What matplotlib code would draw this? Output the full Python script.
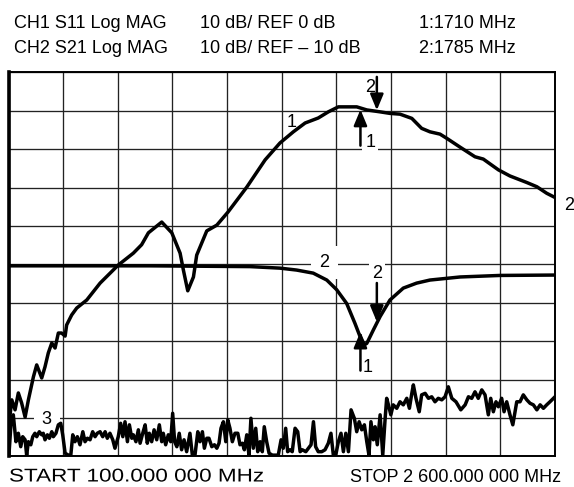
import numpy as np
import matplotlib.pyplot as plt
import matplotlib.transforms as mtransforms
from matplotlib.textpath import TextPath
from matplotlib.patches import PathPatch
from matplotlib.font_manager import FontProperties

plt.rcParams['font.family'] = ['Liberation Sans', 'DejaVu Sans']

# trace 1 (S11), frequency in MHz and level in dB
s11_freq = [102, 115, 130, 145, 160, 176, 191, 214, 229, 252, 267, 282, 298, 313,
            328, 343, 359, 366, 389, 412, 458, 519, 602, 671, 709, 740, 801, 847,
            885, 900, 920, 946, 961, 1007, 1053, 1104, 1190, 1274, 1342, 1403, 1457,
            1517, 1563, 1609, 1693, 1739, 1800, 1845, 1891, 1945, 1990, 2028, 2074,
            2105, 2166, 2234, 2272, 2341, 2394, 2471, 2517, 2562, 2600]
s11_db = [-91.8, -85.3, -87.9, -83.5, -86.1, -89.8, -85.3, -79.3, -76.2, -79.6, -76.7,
          -73.1, -70.5, -71.8, -67.9, -67.9, -68.7, -65.8, -63.2, -61.4, -59.3, -54.9,
          -50.2, -47.1, -44.9, -41.8, -39.0, -41.8, -47.1, -51.5, -56.9, -53.3, -47.6,
          -41.3, -39.8, -36.4, -29.9, -22.8, -18.4, -15.5, -13.2, -11.9, -10.3, -9.0,
          -9.0, -9.8, -10.3, -10.7, -10.9, -12.0, -14.6, -15.5, -16.1, -17.2, -19.5,
          -22.0, -22.6, -25.4, -27.0, -28.7, -29.8, -31.5, -32.6]

# trace 2 (S21)
s21_freq = [100, 747, 1205, 1342, 1418, 1494, 1556, 1601, 1647, 1685, 1708, 1726,
            1739, 1769, 1800, 1845, 1906, 1967, 2028, 2166, 2349, 2600]
s21_db = [-50.4, -50.4, -50.6, -51.0, -51.5, -52.3, -54.1, -56.6, -60.2, -65.4, -68.8,
          -71.0, -70.6, -67.1, -63.6, -59.3, -56.2, -54.9, -54.1, -53.3, -52.9, -52.8]

# trace 3 (noise floor)
tr3_freq = [102, 111, 122, 134, 145, 156, 165, 176, 183, 191, 202, 211, 221, 229, 241,
            252, 259, 267, 278, 287, 298, 305, 317, 328, 339, 348, 359, 374, 385, 394,
            404, 415, 427, 440, 450, 461, 473, 485, 496, 506, 519, 531, 542, 552, 564,
            577, 587, 602, 613, 623, 633, 644, 653, 664, 671, 683, 694, 702, 714, 725,
            735, 744, 755, 766, 778, 790, 801, 808, 819, 831, 842, 851, 860, 870, 881,
            892, 903, 915, 930, 941, 953, 966, 976, 987, 996, 1007, 1017, 1030, 1042,
            1053, 1063, 1072, 1083, 1094, 1103, 1113, 1124, 1136, 1149, 1159, 1170,
            1179, 1190, 1200, 1209, 1220, 1231, 1240, 1251, 1261, 1270, 1281, 1292,
            1307, 1334, 1347, 1357, 1368, 1377, 1388, 1398, 1411, 1423, 1434, 1444,
            1460, 1472, 1484, 1495, 1505, 1517, 1533, 1548, 1563, 1575, 1586, 1597,
            1609, 1621, 1632, 1643, 1655, 1667, 1682, 1693, 1704, 1716, 1728, 1739,
            1749, 1758, 1769, 1777, 1787, 1800, 1812, 1823, 1830, 1838, 1849, 1860,
            1876, 1891, 1906, 1922, 1934, 1945, 1952, 1964, 1979, 1990, 2006, 2021,
            2036, 2051, 2066, 2082, 2097, 2112, 2128, 2147, 2169, 2189, 2204, 2219,
            2234, 2249, 2265, 2280, 2295, 2306, 2318, 2330, 2341, 2356, 2367, 2379,
            2394, 2407, 2417, 2425, 2440, 2455, 2471, 2486, 2501, 2517, 2532, 2547,
            2562, 2577, 2600]
tr3_db = [-99.7, -91.8, -89.2, -96.2, -94.0, -97.5, -94.9, -95.7, -99.7, -96.2, -97.0,
          -94.9, -94.0, -94.9, -93.6, -94.4, -94.0, -95.7, -94.4, -95.3, -93.6, -94.9,
          -94.0, -91.8, -91.4, -94.4, -99.2, -99.7, -99.7, -94.4, -96.2, -94.9, -97.0,
          -93.6, -96.2, -95.3, -95.7, -93.6, -94.9, -94.0, -93.6, -94.9, -93.6, -95.3,
          -94.0, -95.7, -97.9, -94.9, -91.4, -94.9, -91.0, -96.2, -91.8, -95.3, -94.4,
          -96.2, -93.1, -96.6, -94.0, -91.8, -96.6, -94.0, -96.2, -93.1, -95.7, -91.8,
          -96.2, -94.0, -97.0, -94.4, -96.2, -88.8, -96.2, -97.5, -94.0, -98.3, -95.7,
          -98.8, -94.0, -99.7, -99.7, -93.6, -96.2, -93.6, -97.9, -95.3, -95.3, -97.5,
          -97.0, -97.9, -96.6, -92.7, -91.0, -96.2, -90.5, -92.7, -96.2, -94.0, -94.0,
          -97.0, -96.6, -98.3, -94.4, -99.7, -90.1, -97.9, -92.7, -98.8, -96.2, -98.8,
          -92.3, -96.2, -99.2, -99.7, -99.7, -95.7, -97.9, -92.7, -98.8, -98.3, -98.8,
          -92.7, -93.6, -98.8, -98.3, -98.8, -97.9, -97.0, -91.0, -97.5, -98.8, -98.8,
          -98.3, -96.6, -94.0, -99.7, -99.7, -96.2, -94.0, -98.8, -94.0, -98.8, -87.9,
          -90.1, -93.6, -91.0, -93.1, -91.8, -96.2, -99.7, -91.0, -95.7, -92.3, -97.0,
          -89.2, -99.7, -90.1, -84.9, -86.6, -89.2, -86.6, -87.5, -85.8, -86.6, -84.9,
          -87.5, -83.6, -81.4, -84.9, -88.4, -84.0, -83.6, -84.9, -84.5, -85.8, -84.9,
          -85.3, -84.5, -81.9, -84.9, -85.8, -87.9, -86.6, -84.5, -84.9, -83.2, -84.9,
          -82.7, -84.0, -89.2, -84.9, -88.4, -85.8, -87.1, -84.9, -88.4, -85.8, -89.2,
          -91.8, -88.4, -85.8, -85.8, -84.0, -85.3, -86.2, -86.6, -87.9, -86.6, -87.5,
          -86.6, -85.8, -84.5]

marker_freq = [1710, 1785]

W, H = 574, 487

def fx(px):
    return px / W

def fy(py):
    return 1 - py / H

fig = plt.figure(figsize=(W / 100, H / 100), dpi=100)
ax = fig.add_axes([fx(8.5), fy(456.3), (555 - 8.5) / W, 384 / H])

ax.set_xlim(100, 2600)
ax.set_ylim(-100, 0)
ax.set_xticks(np.arange(100, 2601, 250))
ax.set_yticks(np.arange(-100, 1, 10))
ax.tick_params(length=0, labelbottom=False, labelleft=False)
ax.set_axisbelow(True)
ax.grid(True, color='#222222', lw=0.95)
for side in ['top', 'right', 'bottom']:
    ax.spines[side].set_linewidth(1.4)
ax.spines['left'].set_linewidth(2.6)

lw = 2.5
ax.plot(s11_freq, s11_db, color='k', lw=lw, zorder=3, solid_joinstyle='round')
ax.plot(s21_freq, s21_db, color='k', lw=lw, zorder=3, solid_joinstyle='round')
ax.plot(tr3_freq, tr3_db, color='k', lw=lw, zorder=3, solid_joinstyle='round')

arrow = dict(arrowstyle='-|>,head_length=0.6,head_width=0.25', color='k', lw=1.8,
             mutation_scale=16, shrinkA=0, shrinkB=0)
lab = dict(fontsize=13, ha='center', va='center', zorder=2)
white = dict(boxstyle='square,pad=0.15', fc='white', ec='none')
wide = dict(boxstyle='square,pad=0.45', fc='white', ec='none')

# markers on trace 1
m1 = np.interp(marker_freq[0], s11_freq, s11_db)
m2 = np.interp(marker_freq[1], s11_freq, s11_db)
ax.annotate('', xy=(marker_freq[0], m1 - 0.4), xytext=(0, -26), textcoords='offset points',
            arrowprops=arrow, zorder=4)
ax.annotate('1', xy=(marker_freq[0], m1), xytext=(7, -25), textcoords='offset points',
            bbox=white, **lab)
ax.annotate('', xy=(marker_freq[1], m2 + 0.3), xytext=(0, 24), textcoords='offset points',
            arrowprops=arrow, zorder=4)
ax.annotate('2', xy=(marker_freq[1], m2), xytext=(-5, 17), textcoords='offset points', **lab)

# markers on trace 2
n1 = np.interp(marker_freq[0], s21_freq, s21_db)
n2 = np.interp(marker_freq[1], s21_freq, s21_db)
ax.annotate('', xy=(marker_freq[0], n1 + 1.5), xytext=(0, -28), textcoords='offset points',
            arrowprops=arrow, zorder=4)
ax.annotate('1', xy=(marker_freq[0], n1), xytext=(5, -22), textcoords='offset points',
            bbox=white, **lab)
ax.annotate('', xy=(marker_freq[1], n2 + 0.3), xytext=(0, 28), textcoords='offset points',
            arrowprops=arrow, zorder=4)
ax.annotate('2', xy=(marker_freq[1], n2), xytext=(0, 36), textcoords='offset points',
            bbox=white, **lab)

# trace labels
ax.text(1395, -13.2, '1', **lab)
ax.text(1545, -49.6, '2', bbox=wide, **lab)
ax.text(275, -90.5, '3', bbox=wide, **lab)
ax.annotate('2', xy=(s11_freq[-1], s11_db[-1]), xytext=(10, -6), textcoords='offset points',
            annotation_clip=False, **lab)

fs = 13
fig.text(fx(14), fy(28), 'CH1 S11 Log MAG', fontsize=fs, va='baseline')
fig.text(fx(200), fy(28), '10 dB/ REF 0 dB', fontsize=fs, va='baseline')
fig.text(fx(419), fy(28), '1:1710 MHz', fontsize=fs, va='baseline')
fig.text(fx(14), fy(53), 'CH2 S21 Log MAG', fontsize=fs, va='baseline')
fig.text(fx(200), fy(53), '10 dB/ REF \u2013 10 dB', fontsize=fs, va='baseline')
fig.text(fx(419), fy(53), '2:1785 MHz', fontsize=fs, va='baseline')

# the start label is drawn wider in the original, so stretch it as a path
tp = TextPath((0, 0), 'START 100.000 000 MHz', size=18.5, prop=FontProperties(family='Liberation Sans'))
bb = tp.get_extents()
stretch = mtransforms.Affine2D().translate(-bb.x0, 0).scale(253 / bb.width, 1).translate(10, H - 481.5)
fig.add_artist(PathPatch(tp, transform=stretch, fc='k', ec='none'))

fig.text(fx(561), fy(481.5), 'STOP 2 600.000 000 MHz', fontsize=fs, va='baseline', ha='right')

fig.savefig('out.png', dpi=100)
